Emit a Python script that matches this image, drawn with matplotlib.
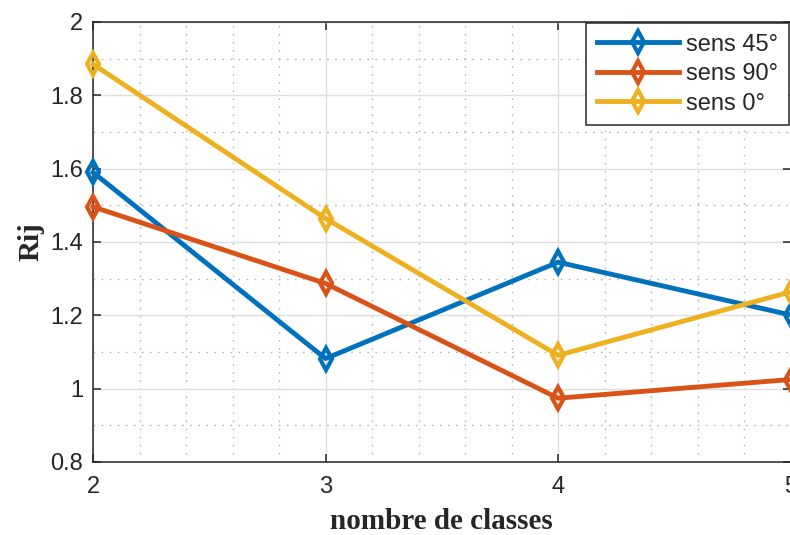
import matplotlib
matplotlib.use("Agg")
import matplotlib.pyplot as plt
from matplotlib.ticker import MultipleLocator, FuncFormatter

classes = [2, 3, 4, 5]
sens45 = [1.590, 1.082, 1.345, 1.201]
sens90 = [1.496, 1.287, 0.974, 1.025]
sens0 = [1.885, 1.464, 1.091, 1.264]
labels = ["sens 45°", "sens 90°", "sens 0°"]
colors = ["#0072BD", "#D95319", "#EDB120"]

fig = plt.figure(figsize=(7.9, 5.35), dpi=100)
ax = fig.add_axes([93/790, 1-462/535, (790.6-93)/790, (462-22)/535])

for ys, lab, c in zip([sens45, sens90, sens0], labels, colors):
    ax.plot(classes, ys, color=c, lw=3.5, marker="d", markersize=11,
            markerfacecolor="none", markeredgewidth=3.0, label=lab,
            clip_on=False, zorder=3)

ax.set_xlim(2, 5)
ax.set_ylim(0.8, 2.0)
ax.xaxis.set_major_locator(MultipleLocator(1))
ax.xaxis.set_minor_locator(MultipleLocator(0.2))
ax.yaxis.set_major_locator(MultipleLocator(0.2))
ax.yaxis.set_minor_locator(MultipleLocator(0.1))
ax.yaxis.set_major_formatter(FuncFormatter(lambda v, p: "%g" % round(v, 2)))
ax.xaxis.set_major_formatter(FuncFormatter(lambda v, p: "%g" % round(v, 2)))

ax.grid(which="major", color="#dedede", lw=1.0, ls="-", zorder=0)
ax.grid(which="minor", color="#b5b5b5", lw=1.0, ls=(0, (1.2, 4.6)), zorder=0)
ax.set_axisbelow(True)

for s in ax.spines.values():
    s.set_color("#262626")
    s.set_linewidth(1.1)

ax.tick_params(which="major", direction="in", length=6, width=1.1, color="#262626",
               top=True, right=True, labelsize=17, labelcolor="#262626")
ax.tick_params(axis="y", which="major", pad=7)
ax.tick_params(axis="x", which="major", pad=10)
ax.tick_params(which="minor", length=0)
for t in ax.get_xticklabels() + ax.get_yticklabels():
    t.set_fontfamily("Liberation Sans")

ax.set_xlabel("nombre de classes", fontfamily="Liberation Serif", fontweight="bold",
              fontsize=21, color="#262626", labelpad=7)
ax.set_ylabel("Rij", fontfamily="Liberation Serif", fontweight="bold",
              fontsize=21, color="#262626", labelpad=4)

leg = ax.legend(loc="upper right", bbox_to_anchor=(789/790, 1-23/535),
                bbox_transform=fig.transFigure, fancybox=False,
                edgecolor="#262626", framealpha=1, numpoints=1,
                handlelength=3.5, handletextpad=0.3, labelspacing=0.32,
                borderpad=0.45, borderaxespad=0,
                prop={"family": "Liberation Sans", "size": 17})
leg.get_frame().set_linewidth(1.1)
for t in leg.get_texts():
    t.set_color("#262626")

fig.savefig("out.png", dpi=100)
